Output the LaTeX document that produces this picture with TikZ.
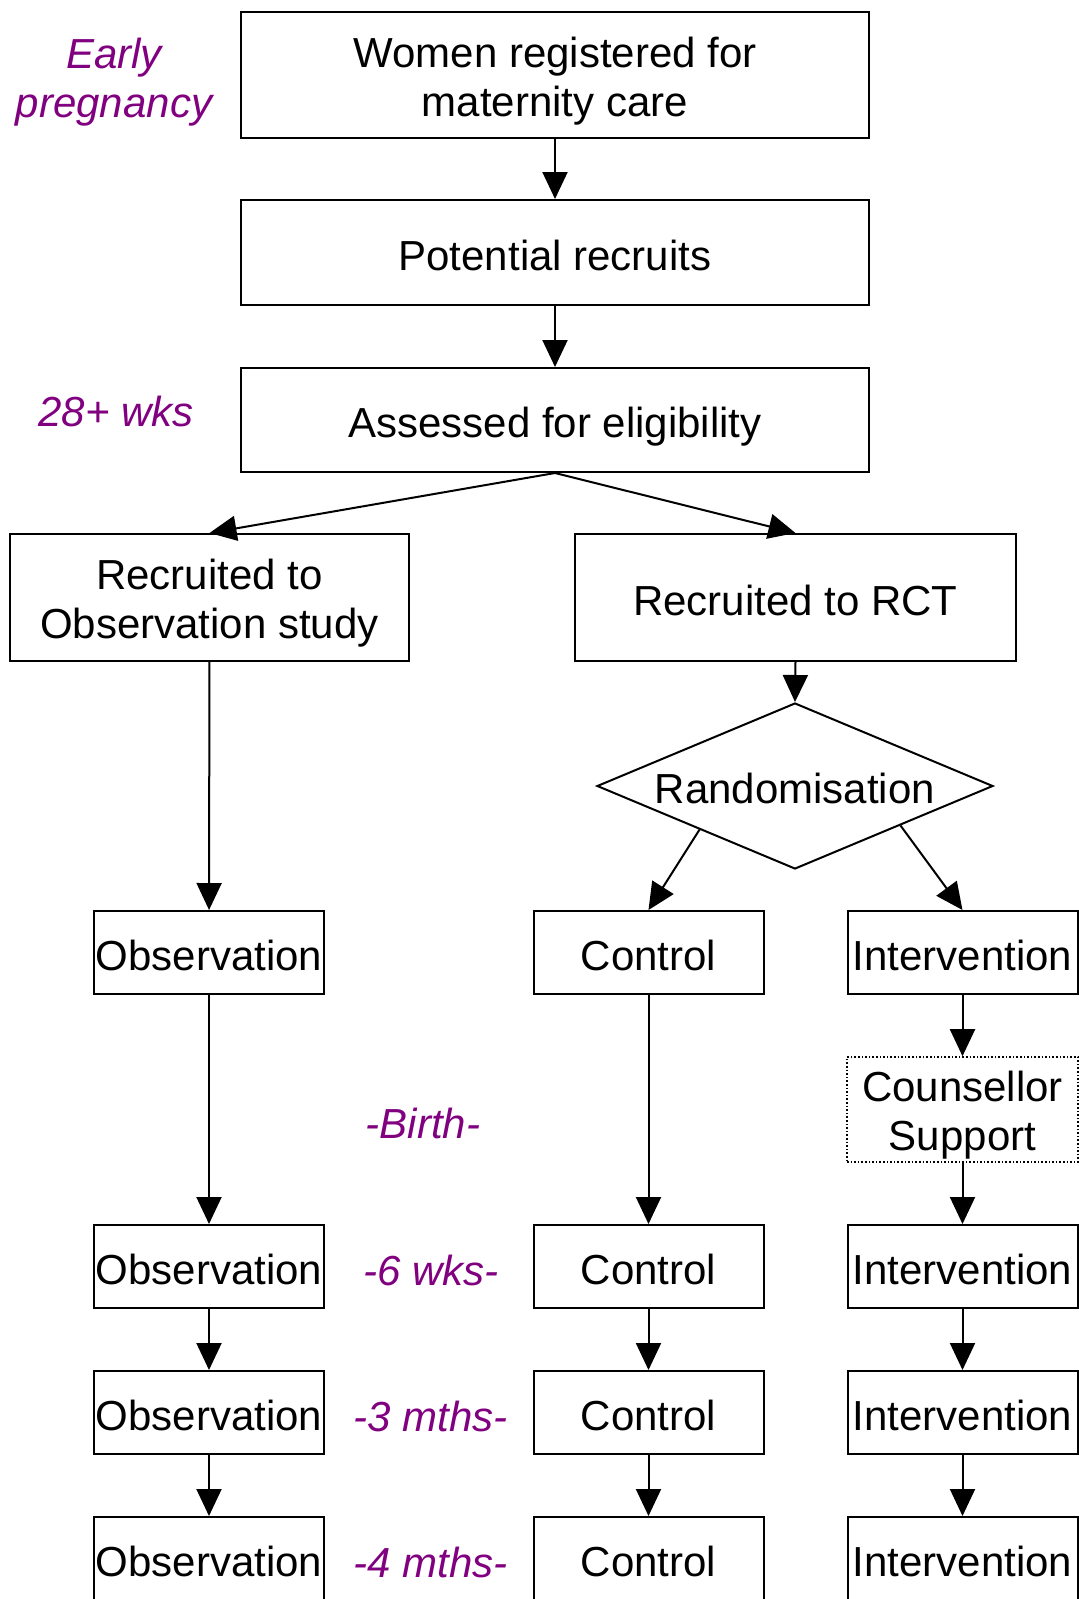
\documentclass[tikz,border=0pt]{standalone}
\usepackage{fontspec}
\setmainfont{Liberation Sans}
\usetikzlibrary{arrows.meta,shapes.geometric,calc}
\definecolor{lblpurple}{RGB}{128,0,128}
\newcommand{\twolines}[2]{\smash{\begin{tabular}[b]{@{}c@{}}#1\\#2\end{tabular}}}
\begin{document}
\begin{tikzpicture}[x=1pt,y=-1pt,
  every node/.style={font=\fontsize{42}{49}\selectfont},
  box/.style={draw,line width=2pt,inner sep=0pt,minimum width=#1,text height=35pt,text depth=0pt},
  box/.default=230pt,
  twobox/.style={text height=82pt,text depth=0pt},
  dotbox/.style={draw,dotted,line width=1.6pt,inner sep=0pt,minimum width=231pt,minimum height=105pt,text height=82pt,text depth=0pt},
  lbl/.style={text=lblpurple,align=center,font=\fontsize{42}{49}\selectfont\itshape},
  arr/.style={line width=2pt,-{Triangle[length=27pt,width=25pt]}}]
\useasboundingbox (0,0) rectangle (1079,1599);
% top boxes
\node[box=628pt,twobox,minimum height=126pt] (b1) at (555,75) {\twolines{Women registered for}{maternity care}};
\node[box=628pt,minimum height=105pt] (b2) at (555,252.5) {Potential recruits};
\node[box=628pt,minimum height=104pt] (b3) at (555,420) {Assessed for eligibility};
\node[box=399pt,twobox,minimum height=127pt] (obs) at (209.5,597.5) {\twolines{Recruited to}{Observation study}};
\node[box=441pt,minimum height=127pt] (rct) at (795.5,597.5) {Recruited to RCT};
\node[draw,line width=2pt,shape=diamond,aspect=2.39,inner sep=0pt,minimum width=396pt,minimum height=166pt,text height=35pt,text depth=0pt] (dia) at (795,786) {Randomisation};
% row 1
\node[box,minimum height=83pt] (o1) at (209,952.5) {Observation};
\node[box,minimum height=83pt] (c1) at (648.5,952.5) {Control};
\node[box,minimum height=83pt] (i1) at (962.5,952.5) {Intervention};
\node[dotbox] (cs) at (962.5,1109.5) {\twolines{Counsellor}{Support}};
% row 2
\node[box,minimum height=83pt] (o2) at (209,1266.5) {Observation};
\node[box,minimum height=83pt] (c2) at (648.5,1266.5) {Control};
\node[box,minimum height=83pt] (i2) at (962.5,1266.5) {Intervention};
% row 3
\node[box,minimum height=83pt] (o3) at (209,1412.5) {Observation};
\node[box,minimum height=83pt] (c3) at (648.5,1412.5) {Control};
\node[box,minimum height=83pt] (i3) at (962.5,1412.5) {Intervention};
% row 4
\node[box,minimum height=83pt] (o4) at (209,1558.5) {Observation};
\node[box,minimum height=83pt] (c4) at (648.5,1558.5) {Control};
\node[box,minimum height=83pt] (i4) at (962.5,1558.5) {Intervention};
% labels
\node[lbl] (l1) at (114,82) {Early\\pregnancy};
\node[lbl] (l2) at (116,411) {28+ wks};
\node[lbl] (l3) at (423,1123) {-Birth-};
\node[lbl] (l4) at (431,1270) {-6 wks-};
\node[lbl] (l5) at (431,1416) {-3 mths-};
\node[lbl] (l6) at (431,1562) {-4 mths-};
% connectors
\draw[arr] (b1) -- (b2);
\draw[arr] (b2) -- (b3);
\draw[arr] (b3.south) -- (obs.north);
\draw[arr] (b3.south) -- (rct.north);
\draw[arr] (rct.south) -- (dia.north);
\draw[arr] ($(dia.west)!0.52!(dia.south)$) -- (c1.north);
\draw[arr] ($(dia.east)!0.47!(dia.south)$) -- (i1.north);
\draw[arr] (obs) -- (o1);
\draw[arr] (o1) -- (o2);
\draw[arr] (c1) -- (c2);
\draw[arr] (i1) -- (cs);
\draw[arr] (cs) -- (i2);
\draw[arr] (o2) -- (o3);
\draw[arr] (c2) -- (c3);
\draw[arr] (i2) -- (i3);
\draw[arr] (o3) -- (o4);
\draw[arr] (c3) -- (c4);
\draw[arr] (i3) -- (i4);
\end{tikzpicture}
\end{document}
